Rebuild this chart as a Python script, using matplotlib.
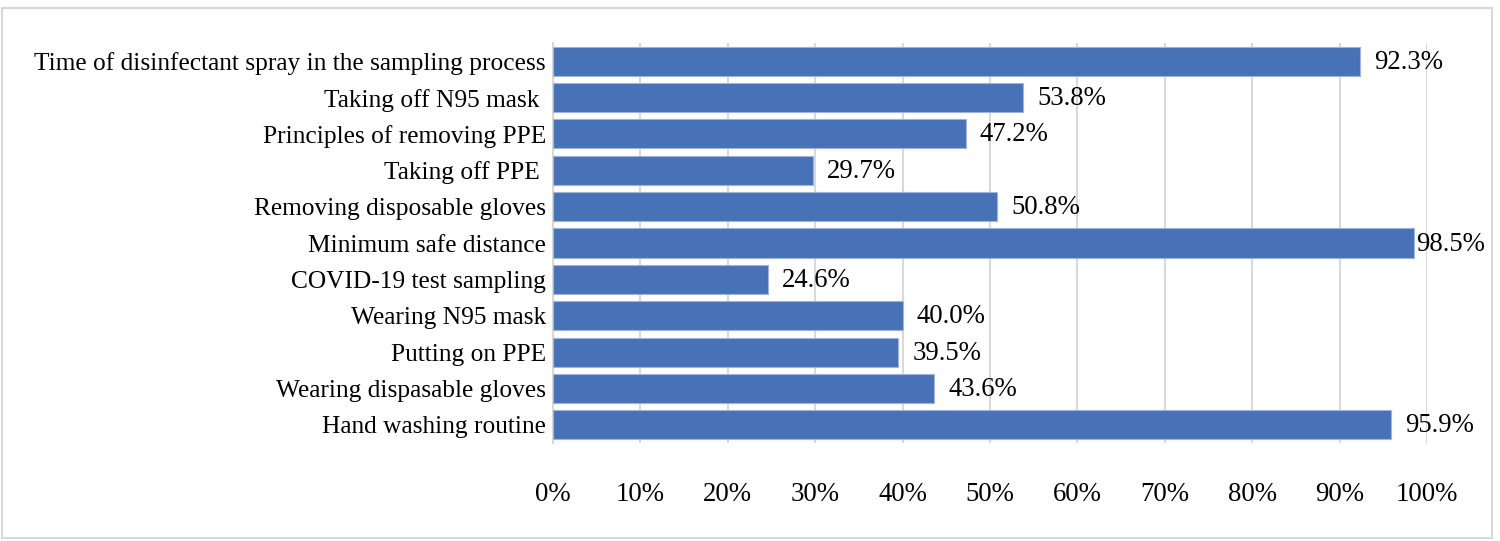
import numpy as np
import matplotlib.pyplot as plt
from matplotlib.patches import Rectangle
from matplotlib.ticker import FuncFormatter

plt.rcParams['font.family'] = ['Liberation Serif', 'DejaVu Serif']

# bottom to top, as drawn
categories = ['Hand washing routine', 'Wearing dispasable gloves', 'Putting on PPE',
              'Wearing N95 mask', 'COVID-19 test sampling', 'Minimum safe distance',
              'Removing disposable gloves', 'Taking off PPE ', 'Principles of removing PPE',
              'Taking off N95 mask ', 'Time of disinfectant spray in the sampling process']
values = [95.9, 43.6, 39.5, 40.0, 24.6, 98.5, 50.8, 29.7, 47.2, 53.8, 92.3]
xticks = np.arange(0, 101, 10)

fig = plt.figure(figsize=(15, 5.41), dpi=100)
ax = fig.add_axes([0.3687, 0.1811, 0.5826, 0.7394])

y = np.arange(len(categories))
ax.barh(y, values, height=0.8, color='#4872B8', edgecolor='#9fb4dc', linewidth=0.8, zorder=3)

for yi, v in zip(y, values):
    off = 14 if v < 97 else 2
    ax.annotate(f'{v:.1f}%', (v, yi), xytext=(off, -1), textcoords='offset pixels',
                va='center', ha='left', fontsize=19.3, color='black', zorder=4)

ax.set_xlim(0, 100)
ax.set_ylim(-0.5, len(categories) - 0.5)
ax.set_xticks(xticks)
ax.xaxis.set_major_formatter(FuncFormatter(lambda v, p: f'{v:.0f}%'))
ax.set_yticks(y)
ax.set_yticklabels(categories)
ax.tick_params(axis='x', length=0, pad=28, labelsize=19.3)
ax.tick_params(axis='y', length=0, pad=5, labelsize=18.3)
ax.grid(axis='x', color='#d9d9d9', linewidth=1.5, zorder=0)
for s in ['top', 'right', 'bottom']:
    ax.spines[s].set_visible(False)
ax.spines['left'].set_color('#d9d9d9')
ax.spines['left'].set_linewidth(1.5)

# chart border
fig.patches.append(Rectangle((2 / 1500, 3 / 541), 1490 / 1500, 530 / 541, transform=fig.transFigure,
                             fill=False, edgecolor='#d9d9d9', linewidth=1.5))

fig.savefig('out.png', dpi=100)
